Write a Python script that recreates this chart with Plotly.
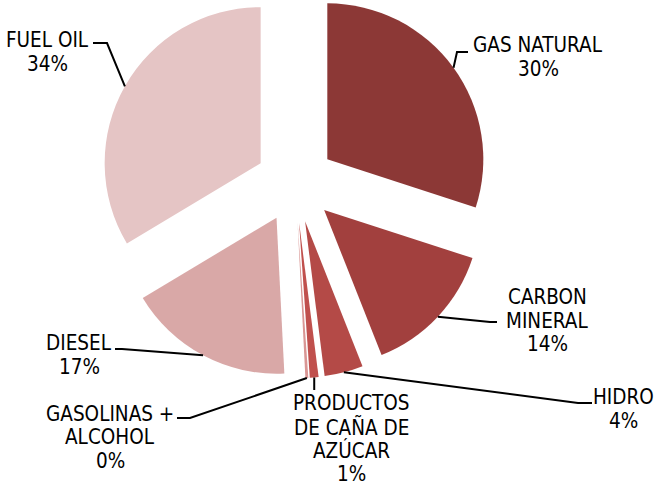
import math
import plotly.graph_objects as go

# ---------------- data ----------------
labels = ["GAS NATURAL", "CARBON MINERAL", "HIDRO", "PRODUCTOS DE CAÑA DE AZÚCAR",
          "GASOLINAS + ALCOHOL", "DIESEL", "FUEL OIL"]
values = [30.0, 14.0, 4.0, 0.9, 0.3, 17.2, 33.6]
label_lines = [["GAS NATURAL"], ["CARBON", "MINERAL"], ["HIDRO"],
               ["PRODUCTOS", "DE CAÑA DE", "AZÚCAR"], ["GASOLINAS +", "ALCOHOL"],
               ["DIESEL"], ["FUEL OIL"]]
colors = ["#8C3836", "#A2403E", "#B44A47", "#C0504D", "#D99694", "#D9A8A7", "#E5C5C5"]

# ---------------- layout geometry (pixels, y from top) ----------------
W, H = 654, 487
CX, CY = 295.2, 182.7     # pie centre before explosion
R = 156.0                 # radius
PULL = 39.7               # explosion distance
FONT = dict(family="DejaVu Sans Condensed, DejaVu Sans", size=20.5, color="black")
LS = 23.7                 # line spacing of label text

# label first-line centres and leader-line elbows (pixels)
label_pos = [(538, 45), (547, 297), (623, 397), (352, 403), (110, 413.5), (79, 343), (47.5, 40)]
leader_pts = [
    [(457, 52), (468, 52)],
    [(490, 322), (497, 322)],
    [(578, 403), (592, 403)],
    [None, (None, 390)],
    [(190, 418), (177, 418)],
    [(122, 349), (115, 349)],
    [(107, 43), (93, 43)],
]

def px(x):
    return x / W

def py(y):
    return 1 - y / H

total = sum(values)
fig = go.Figure()
shapes = []
annotations = []
start = 0.0
for i, v in enumerate(values):
    ang = v / total * 360.0
    mid = math.radians(start + ang / 2)
    start += ang
    dx, dy = math.sin(mid), -math.cos(mid)
    cx, cy = CX + PULL * dx, CY + PULL * dy
    cols = ["rgba(0,0,0,0)"] * len(values)
    cols[i] = colors[i]
    fig.add_trace(go.Pie(
        labels=labels, values=values, sort=False, direction="clockwise", rotation=0,
        marker=dict(colors=cols, line=dict(width=0)), textinfo="none",
        hoverinfo="skip", showlegend=False,
        domain=dict(x=[px(cx - R), px(cx + R)], y=[py(cy + R), py(cy - R)]),
    ))
    # leader line from the slice edge
    ax, ay = CX + (R + PULL) * dx, CY + (R + PULL) * dy
    pts = [(ax, ay)]
    for p in leader_pts[i]:
        if p is None:
            continue
        x = ax if p[0] is None else p[0]
        pts.append((x, p[1]))
    path = "M " + " L ".join(f"{px(x):.5f},{py(y):.5f}" for x, y in pts)
    shapes.append(dict(type="path", xref="paper", yref="paper", path=path,
                       line=dict(color="black", width=2)))
    # label text
    lines = label_lines[i] + [f"{round(v / total * 100)}%"]
    lx, ly = label_pos[i]
    for k, t in enumerate(lines):
        annotations.append(dict(text=t, x=px(lx), y=py(ly + k * LS), xref="paper", yref="paper",
                                xanchor="center", yanchor="middle", showarrow=False, font=FONT))

fig.update_layout(width=W, height=H, margin=dict(l=0, r=0, t=0, b=0),
                  paper_bgcolor="white", plot_bgcolor="white",
                  shapes=shapes, annotations=annotations)
fig.write_html("out.html", config={"displayModeBar": False},
               post_script="document.body.style.margin='0px';document.body.style.overflow='hidden';")
